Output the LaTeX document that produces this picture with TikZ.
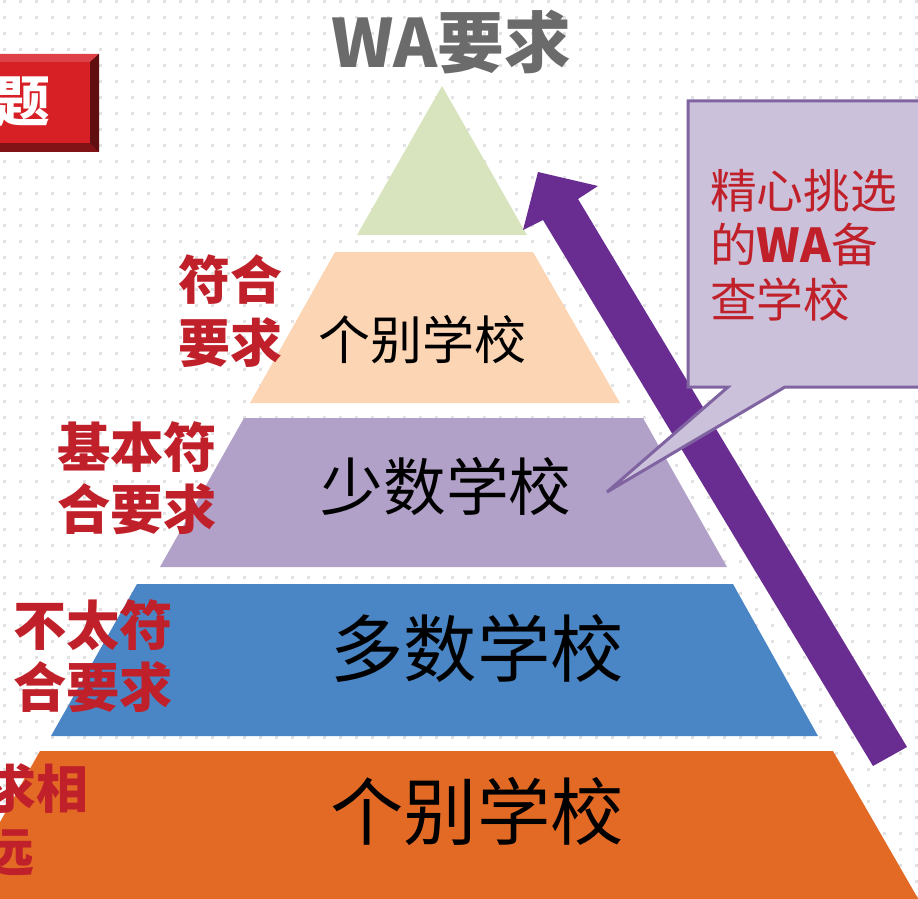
\documentclass[tikz,border=0pt]{standalone}
\usepackage{fontspec}
\setmainfont{Noto Sans CJK SC}
\usetikzlibrary{positioning}

\definecolor{dotgrey}{HTML}{E2E2E2}
\definecolor{topgreen}{HTML}{D7E4BD}
\definecolor{peach}{HTML}{FCD5B5}
\definecolor{lavender}{HTML}{B1A0C7}
\definecolor{midblue}{HTML}{4A86C5}
\definecolor{baseorange}{HTML}{E36A25}
\definecolor{arrowpurple}{HTML}{692D91}
\definecolor{calloutfill}{HTML}{CCC1DA}
\definecolor{calloutline}{HTML}{8064A2}
\definecolor{labelred}{HTML}{C0202A}
\definecolor{titlegrey}{HTML}{6B6B6B}
\definecolor{boxred}{HTML}{D71F26}

\begin{document}
\begin{tikzpicture}[x=0.75pt,y=-0.75pt,
    side label/.style={font=\bfseries\fontsize{39pt}{47pt}\selectfont,
      text=labelred,align=center,inner sep=0pt},
    school/.style={text=black,inner sep=0pt}]
    \useasboundingbox (0,0) rectangle (918,899);
    \clip (0,0) rectangle (918,899);

    % dotted background
    \foreach \i in {0,...,57}
      \foreach \j in {0,...,56}
        \fill[dotgrey] (3+16*\i,16*\j) rectangle ++(3,3);

    % red title box (cut off at the left)
    \fill[boxred!60!black] (-20,54) rectangle (99,152);
    \fill[boxred!85!white] (-20,54) -- (99,54) -- (90,62) -- (-20,62) -- cycle;
    \fill[boxred!45!black] (99,54) -- (99,152) -- (90,143) -- (90,62) -- cycle;
    \fill[boxred] (-20,62) rectangle (90,143);
    \node[font=\bfseries\fontsize{41pt}{41pt}\selectfont,text=white,inner sep=0pt]
      (box) at (23,102) {题};

    % pyramid
    \fill[topgreen] (442,86) -- (527,235) -- (357,235) -- cycle;
    \fill[peach] (335,252) -- (533,252) -- (620,403) -- (250,403) -- cycle;
    \fill[lavender] (244,418) -- (643,418) -- (727,567) -- (160,567) -- cycle;
    \fill[midblue] (137,584) -- (733,584) -- (818,736) -- (51,736) -- cycle;
    \fill[baseorange] (40,751) -- (833,751) -- (920,902) -- (-45,902) -- cycle;

    \node[font=\bfseries\fontsize{50pt}{50pt}\selectfont,text=titlegrey,inner sep=0pt]
      (title) at (451,42) {WA要求};

    \node[school,font=\fontsize{39pt}{39pt}\selectfont] (few) at (422,340) {个别学校};
    \node[school,font=\fontsize{47pt}{47pt}\selectfont] (some) at (446,486) {少数学校};
    \node[school,font=\fontsize{55pt}{55pt}\selectfont] (most) at (477,648) {多数学校};
    \node[school,font=\fontsize{55pt}{55pt}\selectfont] (rest) at (477,811) {个别学校};

    % side labels
    \node[side label] (meets) at (230,311) {符合\\要求};
    \node[side label,font=\bfseries\fontsize{40pt}{47pt}\selectfont] (basic) at (137,478) {基本符\\合要求};
    \node[side label,font=\bfseries\fontsize{40pt}{47pt}\selectfont] (hardly) at (93,656) {不太符\\合要求};
    \node[side label] (far1) at (36,789) {求相};
    \node[side label] (far2) at (9,853) {远};

    % upward arrow
    \fill[arrowpurple] (538,172) -- (598,186) -- (578,199) -- (907,747)
      -- (873,766) -- (543,220) -- (523,230) -- cycle;

    % callout
    \filldraw[fill=calloutfill,draw=calloutline,line width=2.25pt,line join=miter]
      (688,101) -- (935,101) -- (935,387) -- (785,387) -- (607,492)
      -- (728,387) -- (688,387) -- cycle;
    \node[text=labelred,font=\fontsize{35pt}{41pt}\selectfont,align=left,
      inner sep=0pt,anchor=west] (pick) at (710,245)
      {精心挑选\\的\textbf{WA}备\\查学校};
\end{tikzpicture}
\end{document}
